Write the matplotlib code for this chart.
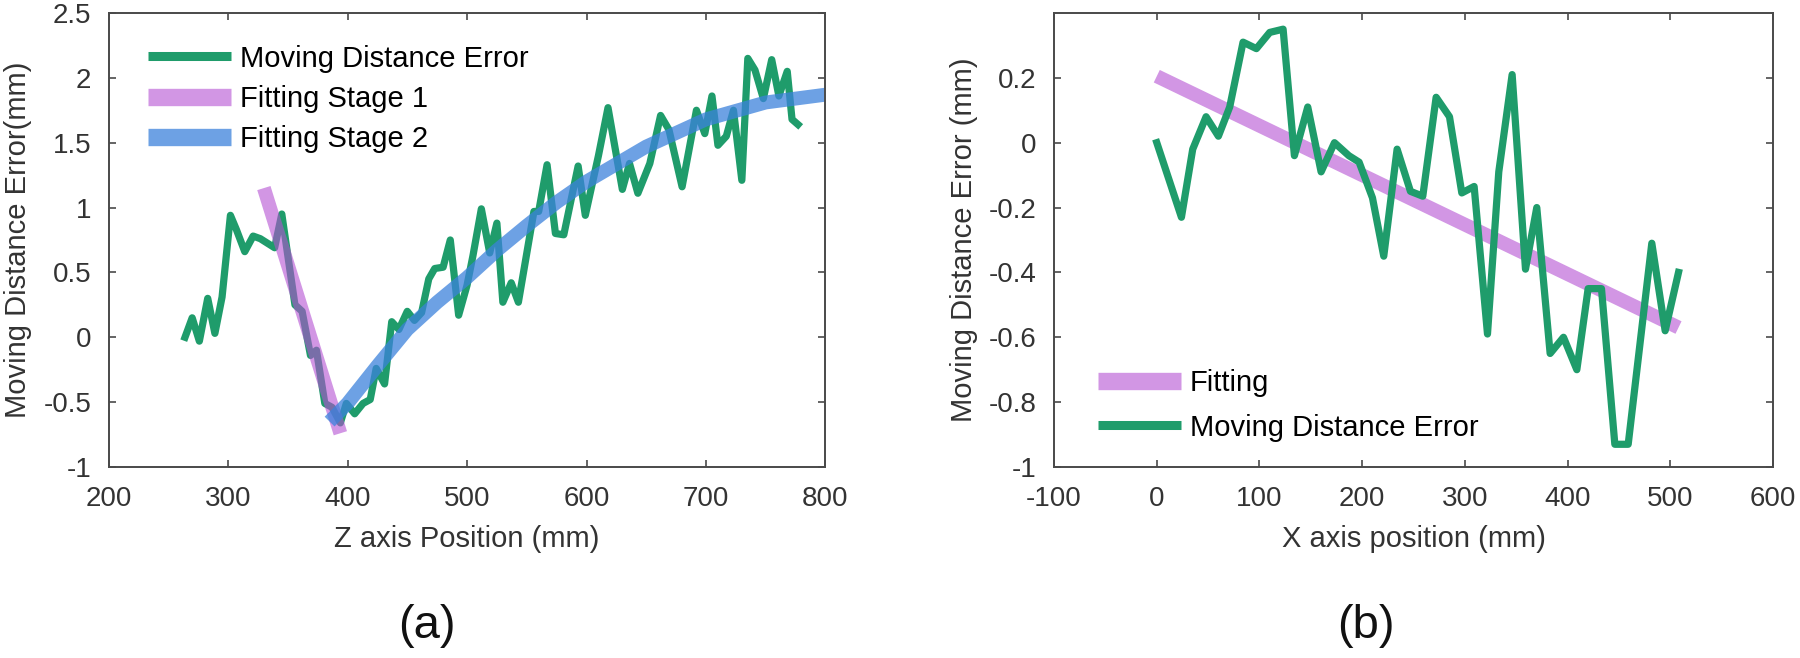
import matplotlib.pyplot as plt
import numpy as np

plt.rcParams['font.family'] = ['Liberation Sans', 'DejaVu Sans']
plt.rcParams['axes.unicode_minus'] = False

# (a) Z axis: measured moving distance error
z_pos = [264, 270, 276, 283, 289, 295, 302, 307, 314, 321, 327, 339, 345, 356, 362,
         369, 374, 381, 387, 394, 399, 406, 413, 419, 424, 431, 437, 443, 450, 456,
         462, 468, 473, 480, 486, 493, 500, 505, 512, 519, 525, 530, 537, 543, 556,
         560, 567, 574, 581, 593, 599, 610, 618, 630, 636, 643, 653, 662, 669, 680,
         692, 699, 705, 710, 717, 723, 730, 735, 741, 748, 755, 761, 768, 772, 777]
z_err = [0.0, 0.15, -0.03, 0.30, 0.03, 0.31, 0.94, 0.83, 0.66, 0.78, 0.76, 0.69, 0.95, 0.25, 0.20,
         -0.14, -0.10, -0.51, -0.54, -0.66, -0.51, -0.59, -0.51, -0.48, -0.24, -0.36, 0.12, 0.06, 0.20, 0.13,
         0.19, 0.45, 0.53, 0.54, 0.75, 0.17, 0.40, 0.63, 0.99, 0.65, 0.88, 0.27, 0.42, 0.27, 0.97,
         0.97, 1.33, 0.80, 0.79, 1.32, 0.94, 1.40, 1.77, 1.14, 1.34, 1.11, 1.34, 1.71, 1.60, 1.16,
         1.75, 1.57, 1.86, 1.48, 1.55, 1.75, 1.21, 2.15, 2.06, 1.84, 2.14, 1.86, 2.05, 1.68, 1.64]

# fitting stage 1 (straight) and stage 2 (curve)
fit1_x = [330, 394]
fit1_y = [1.15, -0.74]
fit2_x = [385, 400, 425, 450, 475, 500, 525, 550, 575, 600, 650, 700, 750, 800]
fit2_y = [-0.65, -0.51, -0.22, 0.06, 0.27, 0.46, 0.67, 0.86, 1.04, 1.20, 1.47, 1.68, 1.81, 1.87]

# (b) X axis
x_pos = [0, 24, 35, 48, 60, 71, 84, 97, 110, 123, 134, 147, 160, 173, 187, 197, 210, 221,
         234, 247, 259, 272, 285, 297, 309, 322, 333, 346, 359, 370, 383, 396, 409, 420,
         433, 446, 459, 482, 495, 508]
x_err = [0.0, -0.23, -0.02, 0.08, 0.02, 0.11, 0.31, 0.29, 0.34, 0.35, -0.04, 0.11, -0.09, 0.0,
         -0.04, -0.06, -0.17, -0.35, -0.02, -0.15, -0.165, 0.14, 0.08, -0.155, -0.135, -0.59,
         -0.09, 0.21, -0.39, -0.20, -0.65, -0.60, -0.70, -0.45, -0.45, -0.93, -0.93, -0.31,
         -0.58, -0.40]
fitx_x = [0, 508]
fitx_y = [0.205, -0.57]

green = '#1F9C6B'
purple = '#B450D2'
blue = '#3C82DC'
axcol = '#4a4a4a'

fig = plt.figure(figsize=(18, 6.58), dpi=100)
ax1 = fig.add_axes([0.0603, 0.2903, 0.3983, 0.69])
ax2 = fig.add_axes([0.5856, 0.2903, 0.3994, 0.69])

ax1.plot(z_pos, z_err, color=green, lw=5.2, label='Moving Distance Error', solid_joinstyle='round')
ax1.plot(fit1_x, fit1_y, color=purple, lw=10, alpha=0.6, solid_capstyle='butt', label='Fitting Stage 1')
ax1.plot(fit2_x, fit2_y, color=blue, lw=10, alpha=0.75, solid_capstyle='butt', label='Fitting Stage 2')
ax1.set_xlim(200, 800)
ax1.set_ylim(-1, 2.5)
ax1.set_xticks(np.arange(200, 801, 100))
ax1.set_yticks(np.arange(-1, 2.51, 0.5))
ax1.set_yticklabels(['-1', '-0.5', '0', '0.5', '1', '1.5', '2', '2.5'])
ax1.set_xlabel('Z axis Position (mm)', fontsize=21, color='#333333', labelpad=9)
ax1.set_ylabel('Moving Distance Error(mm)', fontsize=21, color='#333333', labelpad=8)
leg1 = ax1.legend(loc='upper left', bbox_to_anchor=(0.039, 0.956), frameon=False, fontsize=21,
                  handlelength=2.85, handletextpad=0.3, labelspacing=0.42, borderaxespad=0)

ax2.plot(fitx_x, fitx_y, color=purple, lw=10, alpha=0.6, solid_capstyle='butt', label='Fitting')
ax2.plot(x_pos, x_err, color=green, lw=5.2, label='Moving Distance Error', solid_joinstyle='round')
ax2.set_xlim(-100, 600)
ax2.set_ylim(-1, 0.4)
ax2.set_xticks(np.arange(-100, 601, 100))
ax2.set_yticks(np.arange(-1, 0.21, 0.2))
ax2.set_yticklabels(['-1', '-0.8', '-0.6', '-0.4', '-0.2', '0', '0.2'])
ax2.set_xlabel('X axis position (mm)', fontsize=21, color='#333333', labelpad=9)
ax2.set_ylabel('Moving Distance Error (mm)', fontsize=21, color='#333333', labelpad=8)
leg2 = ax2.legend(loc='lower left', bbox_to_anchor=(0.045, 0.03), frameon=False, fontsize=21,
                  handlelength=2.85, handletextpad=0.3, labelspacing=0.58, borderaxespad=0)

for leg in (leg1, leg2):
    for h in leg.legend_handles:
        h.set_linewidth(12.5 if h.get_linewidth() > 8 else 6.5)
        h.set_solid_capstyle('butt')

for ax in (ax1, ax2):
    ax.tick_params(direction='in', top=True, right=True, length=5, width=1.2,
                   labelsize=20, colors=axcol, labelcolor='#333333')
    ax.tick_params(axis='x', pad=14)
    ax.tick_params(axis='y', pad=12.5)
    for s in ax.spines.values():
        s.set_color(axcol)
        s.set_linewidth(1.4)

fig.text(0.237, 0.049, '(a)', fontsize=34, ha='center', va='center', color='#111111')
fig.text(0.759, 0.049, '(b)', fontsize=34, ha='center', va='center', color='#111111')

fig.savefig('out.png', dpi=100)
